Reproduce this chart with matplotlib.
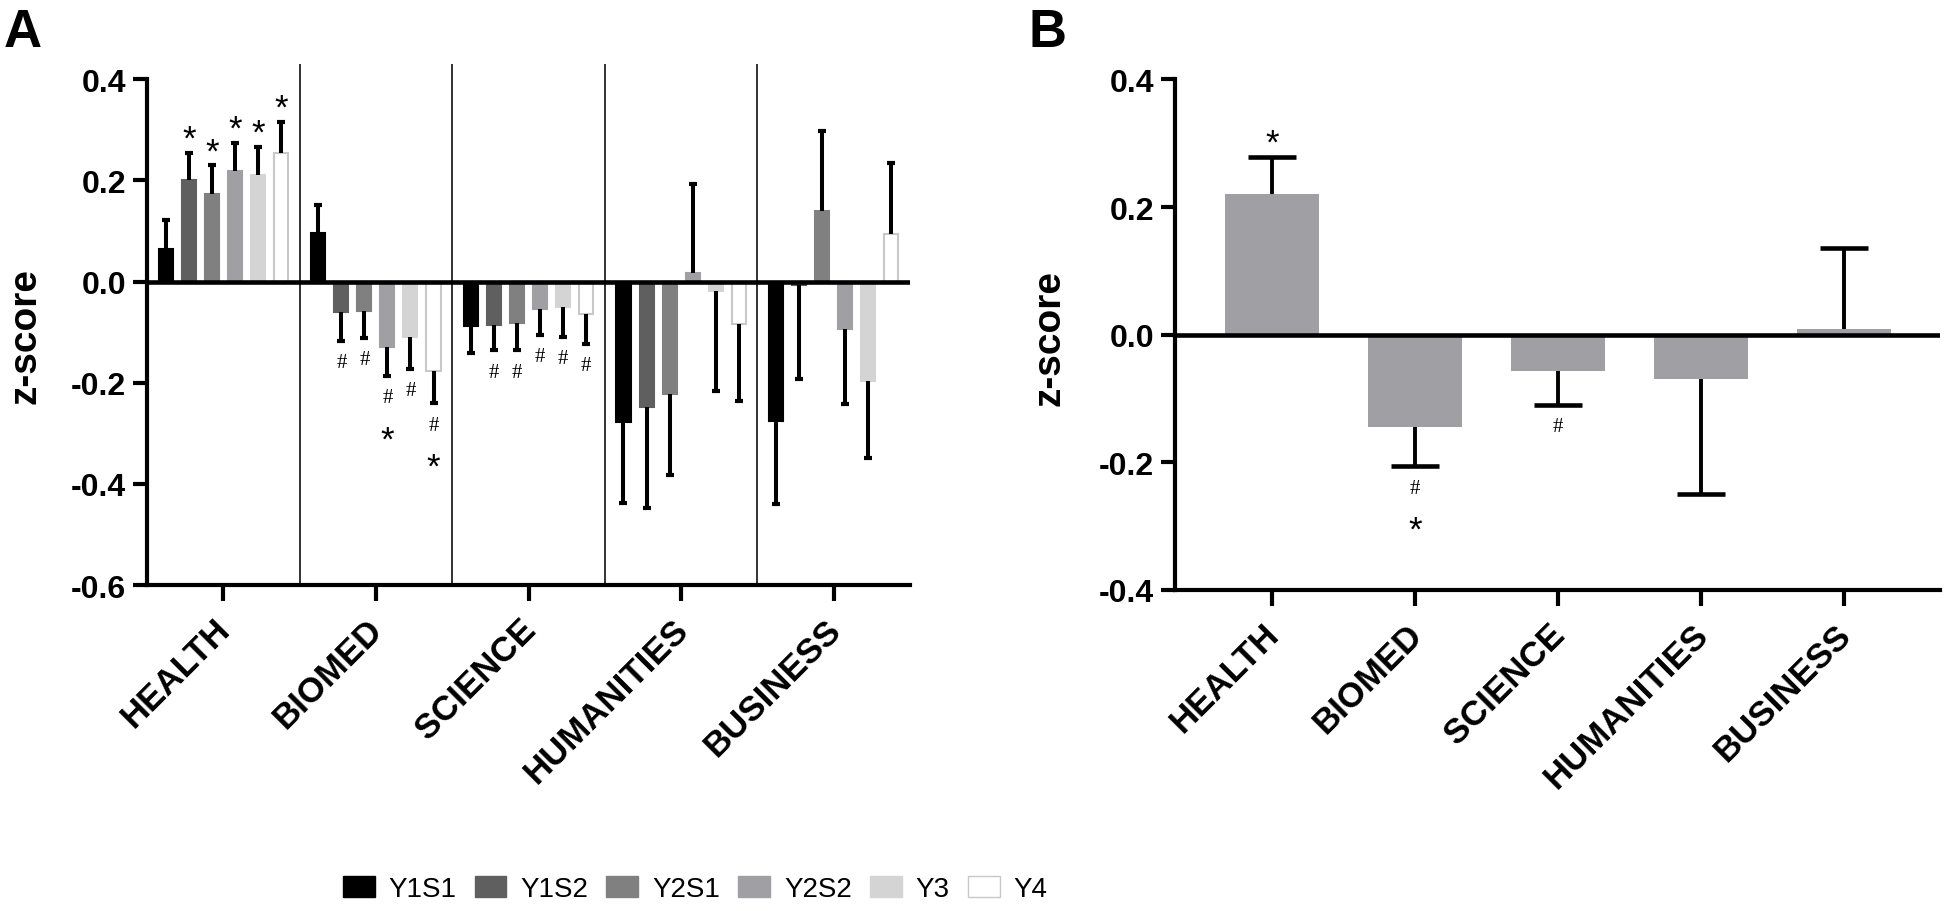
import matplotlib.pyplot as plt
import matplotlib.transforms as mtransforms
from matplotlib.patches import Patch
import numpy as np

plt.rcParams['font.family'] = ['Liberation Sans', 'DejaVu Sans']

categories = ['HEALTH', 'BIOMED', 'SCIENCE', 'HUMANITIES', 'BUSINESS']
years = ['Y1S1', 'Y1S2', 'Y2S1', 'Y2S2', 'Y3', 'Y4']
year_colors = ['#000000', '#5f5f5f', '#808080', '#a0a0a4', '#d4d4d4', '#ffffff']

# panel A - mean z-score per faculty, one list per year of study
y1s1_mean = [0.064, 0.097, -0.088, -0.277, -0.275]
y1s2_mean = [0.201, -0.061, -0.085, -0.247, -0.007]
y2s1_mean = [0.174, -0.059, -0.081, -0.223, 0.139]
y2s2_mean = [0.219, -0.129, -0.054, 0.017, -0.093]
y3_mean = [0.210, -0.110, -0.051, -0.019, -0.196]
y4_mean = [0.255, -0.177, -0.064, -0.083, 0.094]

# SEM (error bars are one-sided, drawn away from zero)
y1s1_sem = [0.057, 0.054, 0.053, 0.160, 0.165]
y1s2_sem = [0.054, 0.056, 0.051, 0.201, 0.185]
y2s1_sem = [0.056, 0.052, 0.055, 0.160, 0.159]
y2s2_sem = [0.055, 0.057, 0.051, 0.177, 0.150]
y3_sem = [0.056, 0.063, 0.058, 0.198, 0.153]
y4_sem = [0.061, 0.064, 0.059, 0.153, 0.140]

# significance marks
y1s1_marks = ['', '', '', '', '']
y1s2_marks = ['*', '#', '#', '', '']
y2s1_marks = ['*', '#', '#', '', '']
y2s2_marks = ['*', '#*', '#', '', '']
y3_marks = ['*', '#', '#', '', '']
y4_marks = ['*', '#*', '#', '', '']

# panel B - all years pooled
pooled_mean = [0.220, -0.144, -0.057, -0.070, 0.009]
pooled_sem = [0.058, 0.062, 0.053, 0.180, 0.127]
pooled_marks = ['*', '#*', '#', '', '']

means_a = [y1s1_mean, y1s2_mean, y2s1_mean, y2s2_mean, y3_mean, y4_mean]
sems_a = [y1s1_sem, y1s2_sem, y2s1_sem, y2s2_sem, y3_sem, y4_sem]
marks_a = [y1s1_marks, y1s2_marks, y2s1_marks, y2s2_marks, y3_marks, y4_marks]


def error_ends(mean, sem):
    mean = np.asarray(mean)
    sem = np.asarray(sem)
    return np.where(mean >= 0, mean + sem, mean - sem)


def put_marks(ax, xs, ends, marks, star_size, hash_size):
    for x, end, mk in zip(xs, ends, marks):
        if not mk:
            continue
        if end >= 0:
            # star above the cap
            ax.annotate('*', (x, end), xytext=(0, 3), textcoords='offset points',
                        ha='center', va='baseline', fontsize=star_size)
        else:
            dy = -19
            for ch in mk:
                if ch == '#':
                    ax.annotate('#', (x, end), xytext=(0, dy), textcoords='offset points',
                                ha='center', va='baseline', fontsize=hash_size,
                                family='Liberation Serif')
                    dy -= 32
                else:
                    ax.annotate('*', (x, end), xytext=(0, dy - 2), textcoords='offset points',
                                ha='center', va='baseline', fontsize=star_size)


def style_axis(ax, ylo, yhi, ticks):
    ax.spines['top'].set_visible(False)
    ax.spines['right'].set_visible(False)
    ax.spines['left'].set_linewidth(3)
    ax.spines['bottom'].set_linewidth(3)
    ax.spines['left'].set_bounds(ylo, yhi)
    ax.set_yticks(ticks)
    ax.set_yticklabels(['{:.1f}'.format(t) for t in ticks])
    ax.tick_params(axis='y', length=10, width=3, pad=5, labelsize=23)
    ax.tick_params(axis='x', length=11.5, width=3, pad=10, labelsize=25)
    for lab in ax.get_yticklabels() + ax.get_xticklabels():
        lab.set_fontweight('bold')
    # nudge rotated labels a little left/up like the original
    shift = mtransforms.ScaledTranslation(-7 / 72, 2 / 72, ax.figure.dpi_scale_trans)
    for lab in ax.get_xticklabels():
        lab.set_transform(lab.get_transform() + shift)
    ax.set_ylabel('z-score', fontsize=28, fontweight='bold')


fig = plt.figure(figsize=(19.44, 9.12), dpi=100)

# ---------------- panel A ----------------
axA = fig.add_axes([147 / 1944, (912 - 586) / 912, 763 / 1944, 520.8 / 912])
x = np.arange(len(categories))
step = 0.151
width = 0.092
for i in range(len(years)):
    xs = x + (i - 2.5) * step
    edge = '#c8c8c8' if year_colors[i] == '#ffffff' else year_colors[i]
    axA.bar(xs, means_a[i], width, color=year_colors[i], edgecolor=edge,
            linewidth=1.5, zorder=2)
    ends = error_ends(means_a[i], sems_a[i])
    axA.vlines(xs, means_a[i], ends, color='k', lw=2.9, zorder=3)
    axA.plot(xs, ends, ls='none', marker='_', ms=6, mew=3, color='k', zorder=3)
    put_marks(axA, xs, ends, marks_a[i], 25, 15)

for sep in x[:-1] + 0.5:
    axA.axvline(sep, color='#222222', lw=1.3, zorder=1)
axA.axhline(0, color='k', lw=3.3, zorder=4)
axA.set_xlim(-0.5, len(categories) - 0.5)
axA.set_ylim(-0.6, 0.43)
axA.set_xticks(x)
axA.set_xticklabels(categories, rotation=45, ha='right', rotation_mode='anchor')
style_axis(axA, -0.6, 0.4, [-0.6, -0.4, -0.2, 0.0, 0.2, 0.4])
axA.yaxis.set_label_coords(-0.136, 0.48)

# ---------------- panel B ----------------
axB = fig.add_axes([1175 / 1944, (912 - 591) / 912, 765 / 1944, 510.6 / 912])
axB.bar(x, pooled_mean, 0.66, color='#a0a0a4', zorder=2)
ends_b = error_ends(pooled_mean, pooled_sem)
axB.vlines(x, pooled_mean, ends_b, color='k', lw=2.8, zorder=3)
axB.plot(x, ends_b, ls='none', marker='_', ms=34, mew=3.3, color='k', zorder=3)
put_marks(axB, x, ends_b, pooled_marks, 25, 15)
axB.axhline(0, color='k', lw=3.3, zorder=4)
axB.set_xlim(-0.68, len(categories) - 1 + 0.67)
axB.set_ylim(-0.4, 0.4)
axB.set_xticks(x)
axB.set_xticklabels(categories, rotation=45, ha='right', rotation_mode='anchor')
style_axis(axB, -0.4, 0.4, [-0.4, -0.2, 0.0, 0.2, 0.4])
axB.yaxis.set_label_coords(-0.141, 0.495)

# panel letters
fig.text(4 / 1944, 1 - 8 / 912, 'A', fontsize=38, fontweight='bold', va='top', ha='left')
fig.text(1028 / 1944, 1 - 8 / 912, 'B', fontsize=38, fontweight='bold', va='top', ha='left')

# legend
handles = [Patch(facecolor=c, edgecolor=('#c8c8c8' if c == '#ffffff' else c))
           for c in year_colors]
fig.legend(handles, years, loc='center', bbox_to_anchor=(695 / 1944, 1 - 890 / 912),
           ncol=6, frameon=False, fontsize=20, handlelength=1.15, handleheight=0.8,
           handletextpad=0.5, columnspacing=0.65)

fig.savefig('out.png', dpi=100)
